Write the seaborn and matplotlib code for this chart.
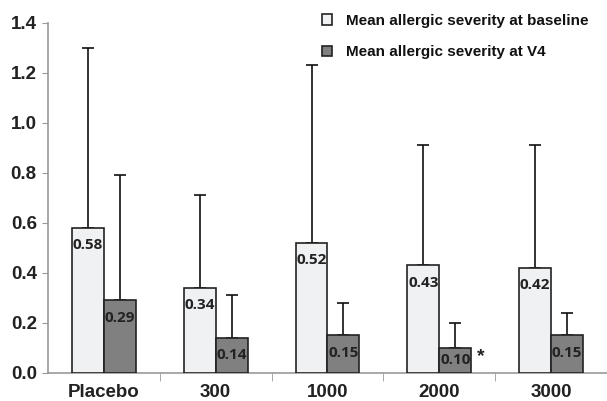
import seaborn as sns
import matplotlib.pyplot as plt
import pandas as pd

groups = ["Placebo", "300", "1000", "2000", "3000"]
baseline = [0.58, 0.34, 0.52, 0.43, 0.42]
baseline_err = [0.72, 0.37, 0.71, 0.48, 0.49]
v4 = [0.29, 0.14, 0.15, 0.10, 0.15]
v4_err = [0.50, 0.17, 0.13, 0.10, 0.09]
series = ["Mean allergic severity at baseline", "Mean allergic severity at V4"]

df = pd.DataFrame({
    "Grupo": groups * 2,
    "Valor": baseline + v4,
    "Serie": [series[0]] * len(groups) + [series[1]] * len(groups),
})

sns.set_style("white")
plt.rcParams["font.family"] = ["Liberation Sans", "DejaVu Sans"]

fig = plt.figure(figsize=(6.07, 4.01), dpi=100)
ax = fig.add_axes([0.079, 0.07, 0.921, 0.873])

sns.barplot(data=df, x="Grupo", y="Valor", hue="Serie", order=groups,
            palette=["#f0f1f3", "#808080"], width=0.57, edgecolor="#222222",
            linewidth=1.2, errorbar=None, ax=ax, zorder=3)

# barras de erro só para cima, e rótulos dentro das barras
for cont, vals, errs in zip(ax.containers, [baseline, v4], [baseline_err, v4_err]):
    xs = [b.get_x() + b.get_width() / 2 for b in cont]
    ax.errorbar(xs, vals, yerr=[[0] * len(vals), errs], fmt="none",
                ecolor="#111111", elinewidth=1.2, capsize=4, capthick=1.2, zorder=2)
    for b, v in zip(cont, vals):
        ax.text(b.get_x() + b.get_width() / 2, max(v - 0.07, v / 2), f"{v:.2f}",
                ha="center", va="center", fontsize=11, fontweight="bold",
                family=["Open Sans", "DejaVu Sans"], color="#222222", zorder=4)

# asterisco no 2000 V4
b = ax.containers[1][3]
ax.text(b.get_x() + b.get_width() + 0.05, 0.065, "*", fontsize=14,
        fontweight="bold", ha="left", va="center", color="#222222")

ax.set_ylim(0, 1.4)
ax.set_xlim(-0.5, 4.5)
ax.set_yticks([0, 0.2, 0.4, 0.6, 0.8, 1.0, 1.2, 1.4])
ax.set_yticklabels([f"{t:.1f}" for t in ax.get_yticks()], fontsize=13.5,
                   fontweight="bold", color="#222222")
ax.set_xticks(range(len(groups)))
ax.set_xticklabels(groups, fontsize=13.5, fontweight="bold", color="#222222")
ax.tick_params(axis="x", length=0, pad=8)
ax.tick_params(axis="y", length=4, color="#999999", pad=4, left=True)
ax.set_xticks([0.5, 1.5, 2.5, 3.5], minor=True)
ax.tick_params(axis="x", which="minor", length=6, color="#999999", bottom=True)
ax.set_xlabel("")
ax.set_ylabel("")

for s in ["top", "right"]:
    ax.spines[s].set_visible(False)
for s in ["left", "bottom"]:
    ax.spines[s].set_color("#999999")
    ax.spines[s].set_linewidth(1.2)

leg = ax.legend(loc="upper left", bbox_to_anchor=(0.465, 1.065), frameon=False,
                fontsize=11, handlelength=0.7, handleheight=0.7,
                labelspacing=1.15, handletextpad=0.9)
for t in leg.get_texts():
    t.set_color("#111111")
    t.set_fontweight("bold")
    t.set_fontsize(11)

fig.savefig("out.png", dpi=100)
